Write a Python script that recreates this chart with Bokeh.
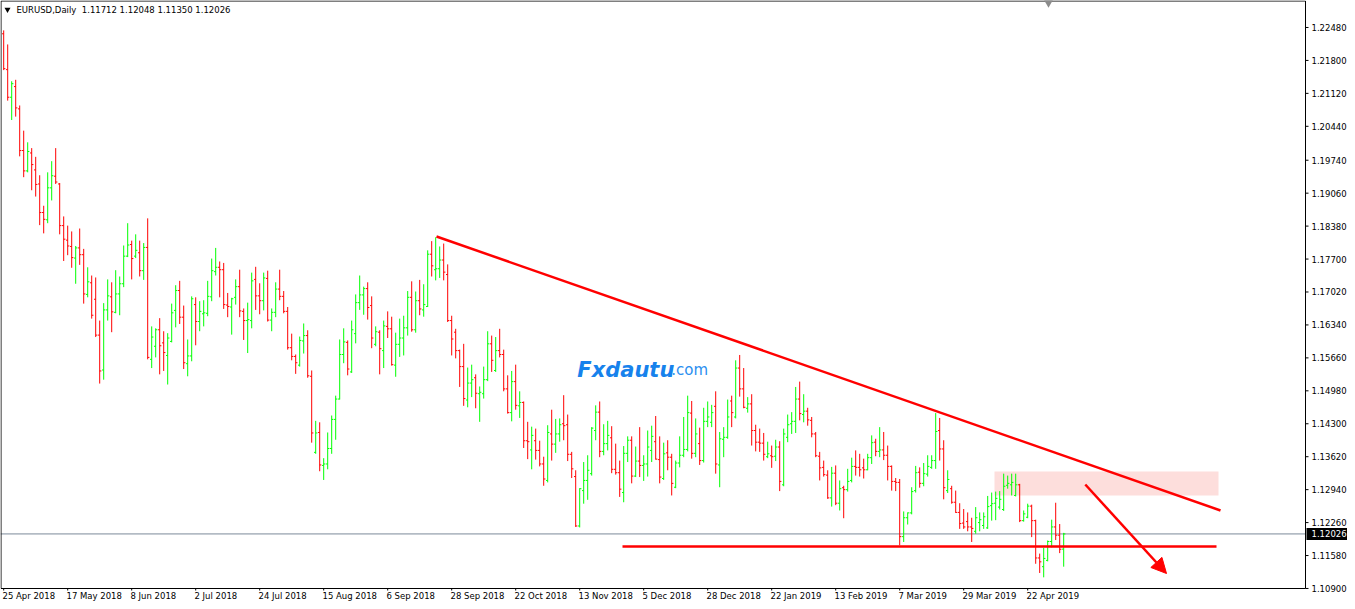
from bokeh.plotting import figure
from bokeh.models import Range1d, Arrow, NormalHead, ColumnDataSource
from bokeh.core.properties import value
from bokeh.embed import file_html
from bokeh.resources import INLINE

# ---------------- data (EURUSD daily) ----------------
symbol = "EURUSD,Daily"
date_labels = ["25 Apr 2018", "17 May 2018", "8 Jun 2018", "2 Jul 2018", "24 Jul 2018",
               "15 Aug 2018", "6 Sep 2018", "28 Sep 2018", "22 Oct 2018", "13 Nov 2018",
               "5 Dec 2018", "28 Dec 2018", "22 Jan 2019", "13 Feb 2019", "7 Mar 2019",
               "29 Mar 2019", "22 Apr 2019"]
label_step = 16
price_labels = ["1.22480", "1.21800", "1.21120", "1.20440", "1.19740", "1.19060", "1.18380",
                "1.17700", "1.17020", "1.16340", "1.15660", "1.14980", "1.14300", "1.13620",
                "1.12940", "1.12260", "1.11580", "1.10900"]

ohlc = [
    (1.2235, 1.2242, 1.2160, 1.2163), (1.2161, 1.2213, 1.2097, 1.2104), (1.2104, 1.2137, 1.2057, 1.2132),
    (1.2126, 1.2140, 1.2064, 1.2082), (1.2080, 1.2087, 1.1982, 1.1994), (1.1994, 1.2035, 1.1939, 1.1952),
    (1.1952, 1.2011, 1.1949, 1.1992), (1.1989, 1.1999, 1.1912, 1.1965), (1.1954, 1.1981, 1.1899, 1.1924),
    (1.1925, 1.1943, 1.1840, 1.1866), (1.1866, 1.1880, 1.1823, 1.1852), (1.1851, 1.1949, 1.1844, 1.1917),
    (1.1917, 1.1972, 1.1891, 1.1942), (1.1941, 1.1999, 1.1925, 1.1929), (1.1925, 1.1927, 1.1821, 1.1839),
    (1.1839, 1.1858, 1.1766, 1.1811), (1.1809, 1.1839, 1.1778, 1.1797), (1.1796, 1.1827, 1.1752, 1.1773),
    (1.1772, 1.1797, 1.1719, 1.1793), (1.1793, 1.1833, 1.1758, 1.1779), (1.1779, 1.1791, 1.1678, 1.1698),
    (1.1697, 1.1753, 1.1691, 1.1723), (1.1721, 1.1736, 1.1647, 1.1654), (1.1687, 1.1732, 1.1609, 1.1613),
    (1.1613, 1.1643, 1.1513, 1.1539), (1.1541, 1.1679, 1.1521, 1.1665), (1.1665, 1.1728, 1.1643, 1.1694),
    (1.1692, 1.1722, 1.1619, 1.1661), (1.1660, 1.1747, 1.1658, 1.1698), (1.1698, 1.1734, 1.1654, 1.1719),
    (1.1719, 1.1798, 1.1712, 1.1776), (1.1776, 1.1844, 1.1774, 1.1799), (1.1800, 1.1808, 1.1728, 1.1771),
    (1.1776, 1.1821, 1.1772, 1.1788), (1.1783, 1.1808, 1.1734, 1.1746), (1.1746, 1.1803, 1.1727, 1.1794),
    (1.1794, 1.1854, 1.1563, 1.1567), (1.1563, 1.1631, 1.1545, 1.1609), (1.1590, 1.1627, 1.1567, 1.1624),
    (1.1624, 1.1648, 1.1532, 1.1591), (1.1597, 1.1621, 1.1539, 1.1577), (1.1571, 1.1617, 1.1511, 1.1607),
    (1.1600, 1.1678, 1.1598, 1.1659), (1.1664, 1.1716, 1.1629, 1.1705), (1.1705, 1.1725, 1.1636, 1.1650),
    (1.1650, 1.1674, 1.1543, 1.1556), (1.1554, 1.1604, 1.1528, 1.1570), (1.1570, 1.1693, 1.1559, 1.1688),
    (1.1676, 1.1691, 1.1592, 1.1641), (1.1641, 1.1683, 1.1621, 1.1662), (1.1657, 1.1685, 1.1631, 1.1659),
    (1.1658, 1.1725, 1.1652, 1.1693), (1.1692, 1.1771, 1.1683, 1.1746), (1.1744, 1.1793, 1.1736, 1.1753),
    (1.1753, 1.1765, 1.1691, 1.1748), (1.1748, 1.1762, 1.1667, 1.1676), (1.1675, 1.1700, 1.1650, 1.1672),
    (1.1671, 1.1690, 1.1614, 1.1688), (1.1691, 1.1728, 1.1676, 1.1713), (1.1713, 1.1748, 1.1650, 1.1663),
    (1.1662, 1.1668, 1.1603, 1.1643), (1.1643, 1.1680, 1.1576, 1.1645), (1.1643, 1.1742, 1.1627, 1.1725),
    (1.1728, 1.1754, 1.1665, 1.1694), (1.1694, 1.1720, 1.1656, 1.1684), (1.1684, 1.1742, 1.1664, 1.1731),
    (1.1730, 1.1746, 1.1641, 1.1644), (1.1644, 1.1668, 1.1621, 1.1660), (1.1660, 1.1722, 1.1650, 1.1708),
    (1.1708, 1.1748, 1.1685, 1.1693), (1.1693, 1.1704, 1.1658, 1.1662), (1.1662, 1.1671, 1.1583, 1.1587),
    (1.1587, 1.1616, 1.1561, 1.1569), (1.1569, 1.1573, 1.1533, 1.1556), (1.1551, 1.1610, 1.1548, 1.1602),
    (1.1601, 1.1637, 1.1575, 1.1612), (1.1612, 1.1623, 1.1525, 1.1529), (1.1528, 1.1540, 1.1391, 1.1411),
    (1.1371, 1.1436, 1.1368, 1.1411), (1.1412, 1.1433, 1.1332, 1.1345), (1.1344, 1.1359, 1.1314, 1.1347),
    (1.1347, 1.1412, 1.1336, 1.1379), (1.1379, 1.1447, 1.1368, 1.1439), (1.1439, 1.1488, 1.1397, 1.1481),
    (1.1481, 1.1604, 1.1480, 1.1573), (1.1573, 1.1627, 1.1555, 1.1599), (1.1598, 1.1602, 1.1530, 1.1543),
    (1.1537, 1.1643, 1.1535, 1.1624), (1.1616, 1.1697, 1.1596, 1.1680), (1.1680, 1.1736, 1.1665, 1.1696),
    (1.1696, 1.1713, 1.1655, 1.1709), (1.1709, 1.1722, 1.1645, 1.1670), (1.1674, 1.1693, 1.1586, 1.1607),
    (1.1594, 1.1631, 1.1590, 1.1620), (1.1619, 1.1623, 1.1532, 1.1585), (1.1581, 1.1643, 1.1545, 1.1632),
    (1.1631, 1.1662, 1.1607, 1.1626), (1.1626, 1.1651, 1.1550, 1.1552), (1.1551, 1.1618, 1.1527, 1.1594),
    (1.1594, 1.1647, 1.1568, 1.1607), (1.1607, 1.1653, 1.1571, 1.1628), (1.1628, 1.1704, 1.1612, 1.1691),
    (1.1691, 1.1724, 1.1620, 1.1624), (1.1624, 1.1703, 1.1618, 1.1684), (1.1684, 1.1727, 1.1654, 1.1667),
    (1.1665, 1.1718, 1.1651, 1.1676), (1.1672, 1.1788, 1.1671, 1.1780), (1.1780, 1.1807, 1.1734, 1.1756),
    (1.1748, 1.1815, 1.1726, 1.1750), (1.1750, 1.1796, 1.1731, 1.1768), (1.1768, 1.1802, 1.1726, 1.1743),
    (1.1738, 1.1759, 1.1640, 1.1643), (1.1643, 1.1653, 1.1571, 1.1605), (1.1619, 1.1626, 1.1565, 1.1581),
    (1.1581, 1.1583, 1.1506, 1.1548), (1.1548, 1.1595, 1.1467, 1.1482), (1.1479, 1.1546, 1.1464, 1.1514),
    (1.1514, 1.1552, 1.1485, 1.1521), (1.1525, 1.1532, 1.1462, 1.1493), (1.1492, 1.1507, 1.1434, 1.1495),
    (1.1492, 1.1548, 1.1482, 1.1521), (1.1521, 1.1621, 1.1518, 1.1595), (1.1595, 1.1612, 1.1537, 1.1561),
    (1.1540, 1.1609, 1.1537, 1.1581), (1.1581, 1.1626, 1.1567, 1.1573), (1.1573, 1.1583, 1.1497, 1.1502),
    (1.1502, 1.1530, 1.1451, 1.1453), (1.1453, 1.1539, 1.1435, 1.1517), (1.1517, 1.1552, 1.1459, 1.1468),
    (1.1467, 1.1497, 1.1442, 1.1474), (1.1474, 1.1476, 1.1380, 1.1395), (1.1395, 1.1434, 1.1357, 1.1393),
    (1.1376, 1.1424, 1.1336, 1.1406), (1.1395, 1.1420, 1.1356, 1.1375), (1.1375, 1.1395, 1.1342, 1.1347),
    (1.1347, 1.1362, 1.1302, 1.1316), (1.1313, 1.1427, 1.1309, 1.1412), (1.1409, 1.1459, 1.1354, 1.1388),
    (1.1388, 1.1440, 1.1370, 1.1409), (1.1409, 1.1441, 1.1393, 1.1428), (1.1430, 1.1489, 1.1396, 1.1426),
    (1.1428, 1.1449, 1.1353, 1.1367), (1.1367, 1.1372, 1.1318, 1.1337), (1.1321, 1.1334, 1.1217, 1.1219),
    (1.1219, 1.1297, 1.1216, 1.1296), (1.1292, 1.1351, 1.1265, 1.1313), (1.1313, 1.1365, 1.1273, 1.1334),
    (1.1327, 1.1423, 1.1323, 1.1421), (1.1416, 1.1468, 1.1396, 1.1454), (1.1454, 1.1476, 1.1361, 1.1373),
    (1.1373, 1.1429, 1.1365, 1.1389), (1.1389, 1.1436, 1.1375, 1.1406), (1.1401, 1.1425, 1.1328, 1.1336),
    (1.1336, 1.1389, 1.1325, 1.1329), (1.1329, 1.1354, 1.1279, 1.1295), (1.1288, 1.1384, 1.1268, 1.1369),
    (1.1369, 1.1404, 1.1351, 1.1396), (1.1396, 1.1404, 1.1307, 1.1322), (1.1322, 1.1383, 1.1320, 1.1353),
    (1.1353, 1.1423, 1.1320, 1.1344), (1.1344, 1.1365, 1.1312, 1.1347), (1.1347, 1.1416, 1.1321, 1.1382),
    (1.1375, 1.1426, 1.1351, 1.1404), (1.1393, 1.1446, 1.1356, 1.1357), (1.1356, 1.1404, 1.1307, 1.1320),
    (1.1317, 1.1391, 1.1314, 1.1368), (1.1370, 1.1396, 1.1334, 1.1361), (1.1361, 1.1368, 1.1282, 1.1307),
    (1.1299, 1.1354, 1.1297, 1.1349), (1.1349, 1.1404, 1.1340, 1.1365), (1.1365, 1.1444, 1.1361, 1.1377),
    (1.1377, 1.1488, 1.1373, 1.1453), (1.1452, 1.1477, 1.1358, 1.1369), (1.1369, 1.1441, 1.1361, 1.1409),
    (1.1389, 1.1422, 1.1345, 1.1354), (1.1354, 1.1463, 1.1350, 1.1435), (1.1435, 1.1476, 1.1423, 1.1444),
    (1.1433, 1.1469, 1.1423, 1.1453), (1.1466, 1.1497, 1.1327, 1.1347), (1.1345, 1.1413, 1.1299, 1.1399),
    (1.1398, 1.1423, 1.1361, 1.1402), (1.1402, 1.1480, 1.1399, 1.1444), (1.1477, 1.1488, 1.1423, 1.1453),
    (1.1444, 1.1561, 1.1441, 1.1545), (1.1545, 1.1572, 1.1486, 1.1502), (1.1502, 1.1545, 1.1462, 1.1464),
    (1.1462, 1.1485, 1.1453, 1.1471), (1.1471, 1.1491, 1.1385, 1.1416), (1.1416, 1.1428, 1.1373, 1.1392),
    (1.1392, 1.1420, 1.1372, 1.1390), (1.1390, 1.1411, 1.1354, 1.1367), (1.1362, 1.1393, 1.1359, 1.1368),
    (1.1364, 1.1385, 1.1339, 1.1362), (1.1363, 1.1397, 1.1353, 1.1382), (1.1382, 1.1394, 1.1291, 1.1311),
    (1.1304, 1.1420, 1.1301, 1.1409), (1.1402, 1.1449, 1.1392, 1.1428), (1.1430, 1.1454, 1.1409, 1.1435),
    (1.1435, 1.1506, 1.1411, 1.1481), (1.1481, 1.1517, 1.1437, 1.1451), (1.1449, 1.1491, 1.1433, 1.1456),
    (1.1456, 1.1463, 1.1426, 1.1438), (1.1437, 1.1444, 1.1402, 1.1409), (1.1409, 1.1413, 1.1361, 1.1364),
    (1.1363, 1.1372, 1.1313, 1.1339), (1.1340, 1.1354, 1.1321, 1.1325), (1.1324, 1.1334, 1.1275, 1.1277),
    (1.1277, 1.1341, 1.1259, 1.1328), (1.1328, 1.1344, 1.1262, 1.1266), (1.1266, 1.1313, 1.1251, 1.1296),
    (1.1298, 1.1302, 1.1235, 1.1294), (1.1294, 1.1337, 1.1290, 1.1311), (1.1313, 1.1360, 1.1309, 1.1342),
    (1.1342, 1.1375, 1.1323, 1.1340), (1.1340, 1.1368, 1.1321, 1.1335), (1.1339, 1.1358, 1.1317, 1.1335),
    (1.1335, 1.1368, 1.1334, 1.1360), (1.1360, 1.1406, 1.1347, 1.1391), (1.1392, 1.1399, 1.1363, 1.1373),
    (1.1373, 1.1423, 1.1361, 1.1376), (1.1376, 1.1413, 1.1355, 1.1365), (1.1365, 1.1385, 1.1313, 1.1342),
    (1.1342, 1.1344, 1.1292, 1.1311), (1.1311, 1.1318, 1.1291, 1.1309), (1.1309, 1.1316, 1.1179, 1.1197),
    (1.1197, 1.1249, 1.1186, 1.1236), (1.1236, 1.1247, 1.1222, 1.1246), (1.1246, 1.1299, 1.1243, 1.1290),
    (1.1292, 1.1343, 1.1288, 1.1329), (1.1330, 1.1340, 1.1298, 1.1307), (1.1307, 1.1349, 1.1301, 1.1327),
    (1.1326, 1.1365, 1.1321, 1.1342), (1.1340, 1.1365, 1.1337, 1.1354), (1.1354, 1.1452, 1.1337, 1.1414),
    (1.1416, 1.1442, 1.1354, 1.1378), (1.1378, 1.1396, 1.1274, 1.1298), (1.1292, 1.1334, 1.1287, 1.1315),
    (1.1296, 1.1302, 1.1265, 1.1268), (1.1268, 1.1292, 1.1246, 1.1247), (1.1247, 1.1266, 1.1213, 1.1224),
    (1.1225, 1.1254, 1.1213, 1.1217), (1.1228, 1.1247, 1.1208, 1.1217), (1.1217, 1.1236, 1.1186, 1.1214),
    (1.1208, 1.1258, 1.1203, 1.1236), (1.1226, 1.1247, 1.1208, 1.1232), (1.1220, 1.1247, 1.1213, 1.1238),
    (1.1215, 1.1281, 1.1213, 1.1259), (1.1261, 1.1288, 1.1230, 1.1265), (1.1266, 1.1290, 1.1231, 1.1276),
    (1.1258, 1.1291, 1.1253, 1.1274), (1.1253, 1.1327, 1.1250, 1.1301), (1.1303, 1.1323, 1.1296, 1.1307),
    (1.1304, 1.1327, 1.1282, 1.1309), (1.1282, 1.1327, 1.1280, 1.1304), (1.1304, 1.1306, 1.1227, 1.1230),
    (1.1230, 1.1251, 1.1228, 1.1244), (1.1237, 1.1265, 1.1235, 1.1260), (1.1260, 1.1263, 1.1196, 1.1230),
    (1.1230, 1.1232, 1.1141, 1.1153), (1.1153, 1.1162, 1.1122, 1.1145), (1.1135, 1.1174, 1.1113, 1.1152),
    (1.1148, 1.1189, 1.1146, 1.1187), (1.1187, 1.1232, 1.1175, 1.1217), (1.1217, 1.1267, 1.1190, 1.1200),
    (1.1200, 1.1223, 1.1163, 1.1171), (1.11712, 1.12048, 1.11350, 1.12026),
]
opens = [r[0] for r in ohlc]
highs = [r[1] for r in ohlc]
lows = [r[2] for r in ohlc]
closes = [r[3] for r in ohlc]

# analyst drawings (bar index, price)
trend_x = [108.2, 304.2]
trend_y = [1.18166, 1.12510]
support_x = [154.7, 303.2]
support_y = [1.11767, 1.11767]
zone_left, zone_right, zone_bottom, zone_top = 247.7, 303.7, 1.12820, 1.13315
arrow_start = (270.4, 1.13046)
arrow_end = (290.7, 1.11209)

# ---------------- layout ----------------
N = len(ohlc)
UP = "#00FF00"
DOWN = "#FF0000"
FONT = "DejaVu Sans"
W, H = 1347, 601
px_per_bar = 4.0
price_per_px = 0.00020642
chart_w_px, chart_h_px = 1305, 588
chart_l = -0.8
chart_r = chart_l + chart_w_px / px_per_bar
chart_t = 1.23037
chart_b = chart_t - chart_h_px * price_per_px
ux = 1.0 / px_per_bar
uy = price_per_px
x_lo, x_hi = chart_l, chart_l + W * ux
y_lo, y_hi = chart_t - H * uy, chart_t

p = figure(width=W, height=H, x_range=Range1d(x_lo, x_hi), y_range=Range1d(y_lo, y_hi),
           output_backend="svg", toolbar_location=None, x_axis_location=None, y_axis_location=None,
           min_border=0)
p.background_fill_color = "white"
p.border_fill_color = "white"
p.outline_line_color = None
p.xgrid.visible = False
p.ygrid.visible = False

# resistance zone
p.quad(left=[zone_left], right=[zone_right], bottom=[zone_bottom], top=[zone_top],
       fill_color="#FDDEDC", line_color=None)

# current price line (under the bars)
p.line([chart_l, chart_r], [closes[-1], closes[-1]], line_color="#7b8a99", line_width=1)

# OHLC bars
xs = list(range(N))
colors = [UP if c >= o else DOWN for o, c in zip(opens, closes)]
src = ColumnDataSource(dict(x=xs, xl=[x - 0.42 for x in xs], xr=[x + 0.42 for x in xs],
                            o=opens, h=highs, l=lows, c=closes, color=colors))
p.segment(x0="x", y0="l", x1="x", y1="h", line_color="color", line_width=1, source=src)
p.segment(x0="xl", y0="o", x1="x", y1="o", line_color="color", line_width=1, source=src)
p.segment(x0="x", y0="c", x1="xr", y1="c", line_color="color", line_width=1, source=src)

# chart frame
bx0, bx1 = chart_l + 0.5 * ux, chart_r
by0, by1 = chart_b, chart_t - 0.5 * uy
p.line([bx0, bx1, bx1, bx0, bx0], [by1, by1, by0, by0, by1], line_color="black", line_width=1)

# right price scale
tick_vals = [float(t) for t in price_labels]
p.segment(x0=[chart_r] * len(tick_vals), x1=[chart_r + 3 * ux] * len(tick_vals),
          y0=tick_vals, y1=tick_vals, line_color="black", line_width=1)
p.text(x=[chart_r + 6 * ux] * len(tick_vals), y=tick_vals, text=price_labels,
       text_font=value(FONT), text_font_size="8.5px", text_color="black",
       text_baseline="middle", text_align="left")

# current price box
p.quad(left=[chart_r + 1 * ux], right=[x_hi], bottom=[closes[-1] - 6 * uy], top=[closes[-1] + 6 * uy],
       fill_color="black", line_color=None)
p.text(x=[chart_r + 6 * ux], y=[closes[-1]], text=[f"{closes[-1]:.5f}"], text_font=value(FONT),
       text_font_size="8.5px", text_color="white", text_baseline="middle", text_align="left")

# bottom date scale (MT4 writes each date starting at its bar)
label_pos = [label_step * k for k in range(len(date_labels))]
p.segment(x0=label_pos, x1=label_pos, y0=[chart_b] * len(label_pos), y1=[chart_b - 2 * uy] * len(label_pos),
          line_color="black", line_width=1)
p.text(x=[v - 0.3 for v in label_pos], y=[chart_b - 2 * uy] * len(label_pos), text=date_labels,
       text_font=value(FONT), text_font_size="8.5px", text_color="black",
       text_baseline="top", text_align="left")

# trend line and support
p.line(trend_x, trend_y, line_color="#FF0000", line_width=2.5)
p.line(support_x, support_y, line_color="#FF0000", line_width=2.5)
p.add_layout(Arrow(end=NormalHead(size=15, fill_color="#FF0000", line_color="#FF0000"),
                   x_start=arrow_start[0], y_start=arrow_start[1], x_end=arrow_end[0], y_end=arrow_end[1],
                   line_color="#FF0000", line_width=2.5))

# header
p.scatter(x=[chart_l + 7 * ux], y=[chart_t - 9 * uy], marker="inverted_triangle", size=6,
          fill_color="black", line_color=None)
header = f"{symbol}\u00a0\u00a0{opens[-1]:.5f} {highs[-1]:.5f} {lows[-1]:.5f} {closes[-1]:.5f}"
p.text(x=[chart_l + 16 * ux], y=[chart_t - 9 * uy], text=[header], text_font=value(FONT),
       text_font_size="8.5px", text_color="black", text_baseline="middle", text_align="left")

# chart shift marker
p.scatter(x=[261.2], y=[chart_t - 2 * uy], marker="inverted_triangle", size=9,
          fill_color="#8c8c8c", line_color=None)

# watermark
p.text(x=[143.4], y=[1.1540], text=["Fxdautu"], text_font=value(FONT), text_font_size="21px",
       text_font_style="bold italic", text_color="#1782ec", text_baseline="middle", text_align="left")
p.text(x=[166.9], y=[1.1540], text=[".com"], text_font=value(FONT), text_font_size="15px",
       text_color="#2b8ff0", text_baseline="middle", text_align="left")

open("out.html", "w").write(file_html(p, INLINE))
